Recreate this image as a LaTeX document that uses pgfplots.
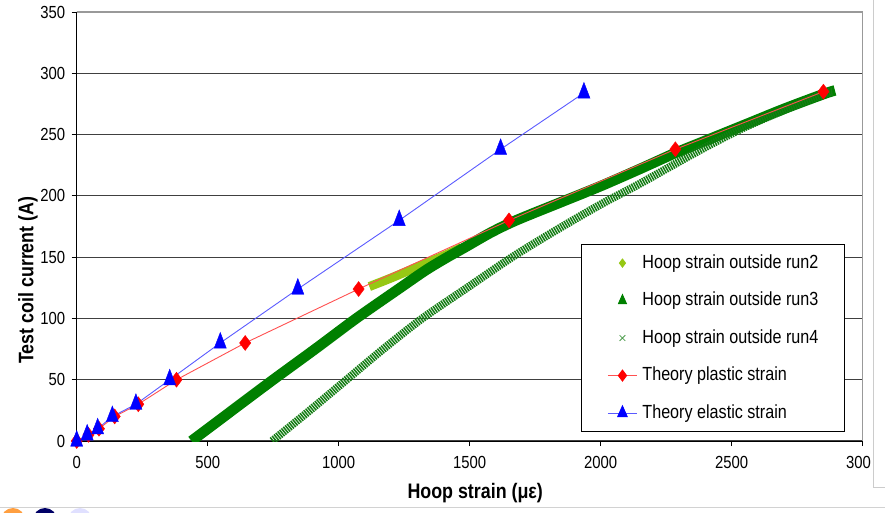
\documentclass[border=0pt]{standalone}
\usepackage{fontspec}
\setmainfont{Liberation Sans}[FakeStretch=0.85]
\usepackage{pgfplots}
\pgfplotsset{compat=1.18}

\definecolor{runA}{RGB}{150,200,20}
\definecolor{runB}{RGB}{0,128,0}
\definecolor{runC}{RGB}{20,125,20}
\definecolor{plasticline}{RGB}{255,80,80}
\definecolor{elasticline}{RGB}{90,90,255}

\begin{document}
\begin{tikzpicture}
\useasboundingbox (0pt,0pt) rectangle (885pt,512pt);

% slide decoration peeking in at the bottom left
\fill[orange!75] (13pt,-8pt) circle (12pt);
\fill[blue!40!black] (45pt,-8pt) circle (12pt);
\fill[blue!12] (80pt,-8pt) circle (12pt);

\begin{axis}[
  name=ax,
  at={(76.7pt,71pt)}, anchor=south west,
  scale only axis, width=786pt, height=429pt,
  xmin=0, xmax=3000, ymin=0, ymax=350,
  xtick={0,500,...,3000}, ytick={0,50,...,350},
  tick align=outside, major tick length=5pt,
  tick style={black, line width=0.9pt},
  axis x line*=bottom, axis y line*=left,
  axis line style={black, line width=1pt, -},
  ymajorgrids, grid style={black!75, line width=1.2pt},
  ticklabel style={font=\fontsize{17.5}{17.5}\selectfont},
  xticklabel style={yshift=-7pt},
  yticklabel style={xshift=-3pt},
  /pgf/number format/assume math mode=true,
  /pgf/number format/1000 sep={},
  xlabel={Hoop strain (με)},
  ylabel={Test coil current (A)},
  label style={font=\bfseries\fontsize{21}{21}\selectfont},
  xlabel style={at={(rel axis cs:0.507,-0.121)}, anchor=center},
  ylabel style={at={(rel axis cs:-0.062,0.375)}, anchor=center},
  legend image code/.code={\draw[mark repeat=2,mark phase=2,#1] plot coordinates {(0pt,0pt) (14.5pt,0pt) (29pt,0pt)};},
  legend style={at={(rel axis cs:0.6416,0.459)}, anchor=north west,
    draw=black, line width=1pt, fill=white,
    font=\fontsize{19}{19}\selectfont,
    inner xsep=26pt, inner ysep=9.5pt, row sep=19.5pt,
    nodes={inner sep=0pt, text height=14pt, text depth=4pt},
    /tikz/every odd column/.style={column sep=5pt}},
  legend cell align=left,
]

% run 2 (light green band)
\addplot[runA, line width=9pt, line join=round, smooth, tension=0.5, forget plot] coordinates {
  (1117,126) (1200,133) (1300,142) (1400,151) (1470,158)
};
% run 3 (dark green band)
\addplot[runB, line width=10.5pt, line join=round, smooth, tension=0.5, forget plot] coordinates {
  (438,0) (600,26) (750,50) (910,75) (1067,100) (1235,125) (1330,139)
  (1407,149) (1490,159) (1580,170) (1677,180) (1850,195) (2000,208)
  (2150,222) (2285,235) (2400,245) (2550,258) (2700,271) (2850,283) (2894,286)
};
% run 4 (hatched green band)
\addplot[runC, line width=8pt, line join=round, smooth, tension=0.5, dash pattern=on 1.5pt off 0.9pt, forget plot] coordinates {
  (746,0) (890,25) (1030,50) (1170,75) (1319,100) (1490,125) (1662,150)
  (1830,172) (2000,193) (2150,210) (2300,228) (2420,242) (2550,256)
  (2700,270) (2850,283) (2884,285)
};
% theory, plastic
\addplot[plasticline, line width=0.9pt, mark=diamond*, mark size=7.5pt,
  mark options={red, fill=red, line width=0.4pt}, forget plot] coordinates {
  (0,0) (45,5) (85,10) (145,20) (235,30) (381,50) (643,80) (1076,124)
  (1650,180) (2285,238) (2850,285)
};
% theory, elastic
\addplot[elasticline, line width=0.9pt, mark=triangle*, mark size=7pt,
  mark options={blue, fill=blue, yscale=1.5, line width=0.4pt}, forget plot] coordinates {
  (0,0) (40,5) (80,10) (136,20) (226,30) (355,50) (548,80) (844,124)
  (1231,180) (1618,238) (1936,284)
};

\addlegendimage{only marks, mark=diamond*, mark size=4pt, runA}
\addlegendentry{Hoop strain outside run2}
\addlegendimage{only marks, mark=triangle*, mark size=4.5pt, runB, mark options={yscale=1.3}}
\addlegendentry{Hoop strain outside run3}
\addlegendimage{only marks, mark=x, mark size=4pt, runC!75!white, mark options={line width=0.8pt}}
\addlegendentry{Hoop strain outside run4}
\addlegendimage{plasticline, line width=0.9pt, mark=diamond*, mark size=5.5pt, mark options={red, fill=red}}
\addlegendentry{Theory plastic strain}
\addlegendimage{elasticline, line width=0.9pt, mark=triangle*, mark size=5.5pt, mark options={blue, fill=blue, yscale=1.3}}
\addlegendentry{Theory elastic strain}
\end{axis}

% plot area frame on the top and right
\draw[gray!80, line width=1.4pt] (ax.north west) -- (ax.north east) -- (ax.south east);

% chart frame on the right edge
\fill[white] (871pt,0pt) rectangle (885pt,512pt);
\draw[gray!40, line width=1pt] (873pt,512pt) -- (873pt,25pt) -- (885pt,25pt);
\draw[gray!35, line width=1pt] (0pt,4.5pt) -- (885pt,4.5pt);
\end{tikzpicture}
\end{document}
